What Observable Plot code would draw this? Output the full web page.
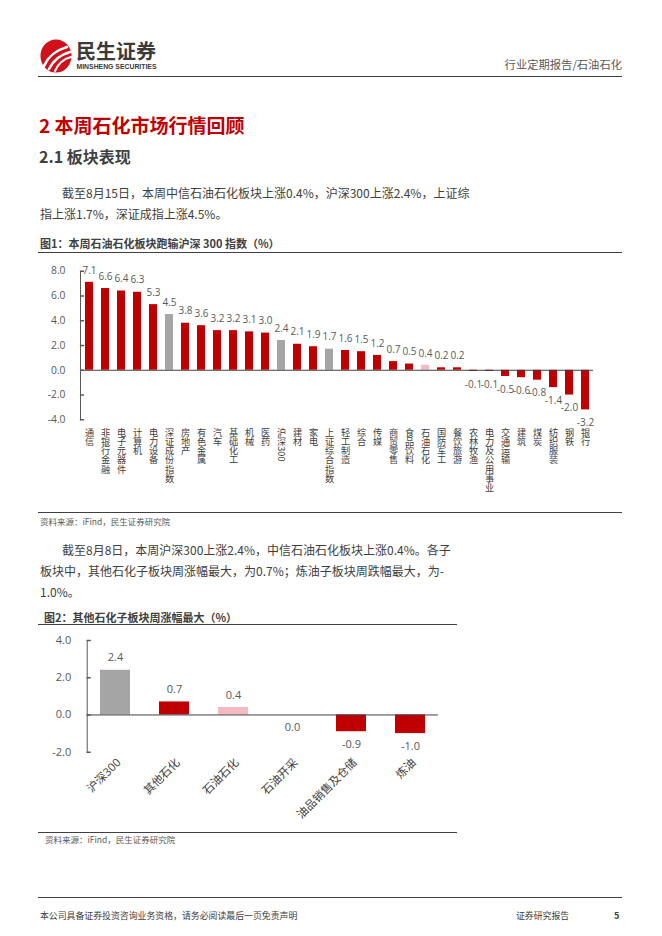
<!DOCTYPE html>
<html><head><meta charset="utf-8">
<script src="https://cdn.jsdelivr.net/npm/d3@7"></script>
<script src="https://cdn.jsdelivr.net/npm/@observablehq/plot@0.6"></script>
<style>
html,body{margin:0;padding:0;background:#fff}
body{width:662px;height:936px;position:relative;overflow:hidden;font-family:"Noto Sans CJK SC",sans-serif;color:#404040}
.abs{position:absolute;white-space:nowrap}
.hline{position:absolute;height:0;border-top:1.2px solid #404040}
</style></head><body>

<svg class="abs" style="left:38px;top:36px" width="130" height="40">
  <ellipse cx="18" cy="20" rx="15.5" ry="16.5" fill="#D0101B"/>
  <path d="M6 30 C 10 21, 16 15, 29 11" stroke="#fff" stroke-width="2.6" fill="none" stroke-linecap="round"/>
  <path d="M11 33 C 15 25, 21 19, 32 16" stroke="#fff" stroke-width="2.6" fill="none" stroke-linecap="round"/>
  <path d="M17 35 C 20 28, 25 23, 33 21" stroke="#fff" stroke-width="2.2" fill="none" stroke-linecap="round"/>
  <text x="38" y="22.5" font-size="20" font-weight="bold" fill="#3a3a3a" font-family="Noto Sans CJK SC">民生证券</text>
  <text x="38.5" y="33" font-size="7" font-weight="bold" fill="#3a3a3a" font-family="Liberation Sans" textLength="80" lengthAdjust="spacingAndGlyphs">MINSHENG SECURITIES</text>
</svg>
<div class="abs" style="right:40px;top:56px;font-size:11.3px;line-height:16px;color:#595959">行业定期报告/石油石化</div>
<div class="hline" style="left:38px;top:76px;width:584px"></div>

<div class="abs" style="left:39px;top:112px;font-size:19px;line-height:25px;font-weight:bold;color:#C00000">2 本周石化市场行情回顾</div>
<div class="abs" style="left:39px;top:146px;font-size:16px;line-height:21px;font-weight:bold;color:#404040">2.1 板块表现</div>

<div class="abs" style="left:62px;top:184px;font-size:12px;line-height:17px">截至8月15日，本周中信石油石化板块上涨0.4%，沪深300上涨2.4%，上证综</div>
<div class="abs" style="left:40px;top:205px;font-size:12px;line-height:17px">指上涨1.7%，深证成指上涨4.5%。</div>

<div class="abs" style="left:40px;top:235px;font-size:11px;line-height:16px;font-weight:bold">图1：本周石油石化板块跑输沪深 300 指数（%）</div>
<div class="hline" style="left:38px;top:252px;width:584px"></div>
<div id="chart1" class="abs" style="left:38px;top:253px"></div>
<div class="hline" style="left:38px;top:512px;width:584px"></div>
<div class="abs" style="left:40px;top:515px;font-size:8.5px;line-height:13px;color:#595959">资料来源：iFind，民生证券研究院</div>

<div class="abs" style="left:62px;top:541px;font-size:12px;line-height:17px">截至8月8日，本周沪深300上涨2.4%，中信石油石化板块上涨0.4%。各子</div>
<div class="abs" style="left:40px;top:562px;font-size:12px;line-height:17px">板块中，其他石化子板块周涨幅最大，为0.7%；炼油子板块周跌幅最大，为-</div>
<div class="abs" style="left:40px;top:583px;font-size:12px;line-height:17px">1.0%。</div>

<div class="abs" style="left:44px;top:609px;font-size:11px;line-height:16px;font-weight:bold">图2：其他石化子板块周涨幅最大（%）</div>
<div class="hline" style="left:38px;top:624px;width:419px"></div>
<div id="chart2" class="abs" style="left:38px;top:625px"></div>
<div class="hline" style="left:38px;top:832px;width:419px"></div>
<div class="abs" style="left:45px;top:833px;font-size:8.5px;line-height:13px;color:#595959">资料来源：iFind，民生证券研究院</div>

<div class="hline" style="left:38px;top:897px;width:584px"></div>
<div class="abs" style="left:40px;top:909px;font-size:8.9px;line-height:14px">本公司具备证券投资咨询业务资格，请务必阅读最后一页免责声明</div>
<div class="abs" style="left:516px;top:909px;font-size:8.9px;line-height:14px">证券研究报告</div>
<div class="abs" style="left:614px;top:909px;font-size:9px;line-height:14px;font-weight:bold">5</div>

<script>
// ---- Data: chart 1 ----
const cats1 = ["通信","非银行金融","电子元器件","计算机","电力设备","深证成份指数","房地产","有色金属","汽车","基础化工","机械","医药","沪深300","建材","家电","上证综合指数","轻工制造","综合","传媒","商贸零售","食品饮料","石油石化","国防军工","餐饮旅游","农林牧渔","电力及公用事业","交通运输","建筑","煤炭","纺织服装","钢铁","银行"];
const vals1 = [7.1,6.6,6.4,6.3,5.3,4.5,3.8,3.6,3.2,3.2,3.1,3.0,2.4,2.1,1.9,1.7,1.6,1.5,1.2,0.7,0.5,0.4,0.2,0.2,-0.1,-0.1,-0.5,-0.6,-0.8,-1.4,-2.0,-3.2];
const indexCats1 = ["深证成份指数","沪深300","上证综合指数"];
const yTicks1 = [-4,-2,0,2,4,6,8];

// ---- Data: chart 2 ----
const cats2 = ["沪深300","其他石化","石油石化","石油开采","油品销售及仓储","炼油"];
const vals2 = [2.4,0.7,0.4,0.0,-0.9,-1.0];
const indexCats2 = ["沪深300"];
const yTicks2 = [-2,0,2,4];

const focusCat = "石油石化";
const kinds = ["行业","指数","石油石化"];
const kindColors = ["#C00000","#A5A5A5","#F4B9C1"];
const fmt = d => d.toFixed(1);
const FONT = '"Open Sans","Noto Sans CJK SC",sans-serif';
const tickShape = {draw(ctx, l){ ctx.moveTo(0,0); ctx.lineTo(0,-l); }};

function kindOf(c, idx){ return c === focusCat ? "石油石化" : idx.includes(c) ? "指数" : "行业"; }

// ---- Chart 1 ----
const data1 = cats1.map((c,i)=>({c, v: vals1[i], k: kindOf(c, indexCats1)}));
const svg1 = Plot.plot({
  width: 584, height: 258,
  marginTop: 17.7, marginBottom: 91.7, marginLeft: 42, marginRight: 29,
  style: {fontFamily: FONT, color: "#595959", background: "transparent"},
  x: {domain: cats1, paddingInner: 0.52, paddingOuter: 0.16, axis: null},
  y: {domain: [-4, 8], axis: null, label: null},
  color: {domain: kinds, range: kindColors},
  marks: [
    Plot.barY(data1, {x: "c", y: "v", fill: "k"}),
    Plot.ruleY([0], {stroke: "#404040", strokeWidth: 1}),
    Plot.frame({anchor: "left", stroke: "#595959"}),
    Plot.vector(yTicks1, {y: d=>d, frameAnchor: "left", length: 3, rotate: 90, anchor: "start", shape: tickShape, stroke: "#595959"}),
    Plot.axisY(yTicks1, {tickSize: 0, tickPadding: 15, tickFormat: fmt, fontSize: 10.3, fill: "#595959", label: null}),
    Plot.text(data1.filter(d=>d.v>0), {x: "c", y: "v", text: d=>fmt(d.v), dy: -12, fontSize: 10, fill: "#595959"}),
    Plot.text(data1.filter(d=>d.v<=0), {x: "c", y: "v", text: d=>fmt(d.v), dy: 13, fontSize: 10, fill: "#595959"}),
    Plot.text(cats1, {x: d=>d, frameAnchor: "bottom", text: d=>d, dy: 8, fontSize: 9.2, fill: "#404040", ariaDescription: "xlab"})
  ]
});
{
  const g = d3.select(svg1).select('g[aria-description="xlab"]');
  g.attr("text-anchor", "start").attr("font-family", "Noto Sans CJK SC");
  g.selectAll("text").attr("dy", null).attr("text-anchor", "start")
    .attr("writing-mode", "vertical-rl").style("writing-mode", "vertical-rl")
    .style("font-family", "'Noto Sans CJK SC'");
}
document.getElementById("chart1").appendChild(svg1);

// ---- Chart 2 ----
const data2 = cats2.map((c,i)=>({c, v: vals2[i], k: kindOf(c, indexCats2)}));
const svg2 = Plot.plot({
  width: 419, height: 206,
  marginTop: 15, marginBottom: 79.3, marginLeft: 48.7, marginRight: 19,
  style: {fontFamily: FONT, color: "#595959", background: "transparent"},
  x: {domain: cats2, paddingInner: 0.5, paddingOuter: 0.22, axis: null},
  y: {domain: [-2, 4], axis: null, label: null},
  color: {domain: kinds, range: kindColors},
  marks: [
    Plot.barY(data2, {x: "c", y: "v", fill: "k"}),
    Plot.ruleY([0], {stroke: "#404040", strokeWidth: 1}),
    Plot.frame({anchor: "left", stroke: "#595959"}),
    Plot.vector(yTicks2, {y: d=>d, frameAnchor: "left", length: 3, rotate: 90, anchor: "start", shape: tickShape, stroke: "#595959"}),
    Plot.axisY(yTicks2, {tickSize: 0, tickPadding: 16, tickFormat: fmt, fontSize: 11, fill: "#595959", label: null}),
    Plot.text(data2.filter(d=>d.v>0), {x: "c", y: "v", text: d=>fmt(d.v), dy: -12.5, fontSize: 11, fill: "#595959"}),
    Plot.text(data2.filter(d=>d.v<=0), {x: "c", y: "v", text: d=>fmt(d.v), dy: 12.5, fontSize: 11, fill: "#595959"}),
    Plot.text(cats2, {x: d=>d, frameAnchor: "bottom", text: d=>d, rotate: -45, textAnchor: "end", dx: 6, dy: 11, fontSize: 11.3, fill: "#404040"})
  ]
});
document.getElementById("chart2").appendChild(svg2);
</script>
</body></html>
